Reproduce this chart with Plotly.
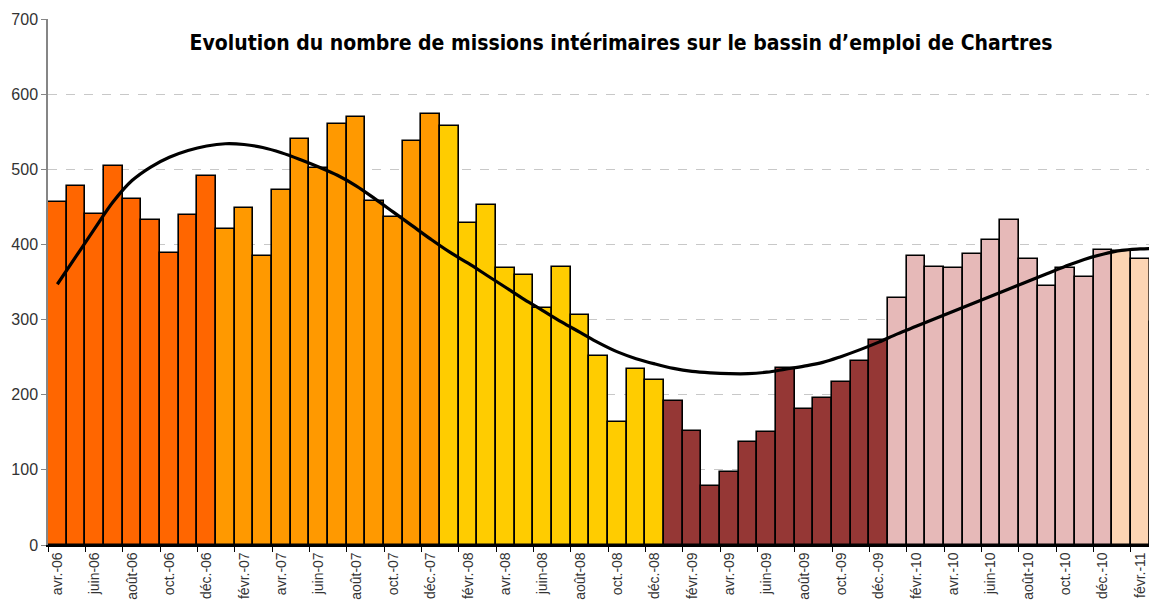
import plotly.graph_objects as go

# Data
month_names = ["janv.", "févr.", "mars", "avr.", "mai", "juin",
               "juil.", "août", "sept.", "oct.", "nov.", "déc."]
years = ["06", "07", "08", "09", "10", "11"]
categories = [f"{m}-{y}" for y in years for m in month_names][3:63]   # avr.-06 .. mars-11
bar_years = [y for y in years for m in month_names][3:63]

missions = [457, 478, 440, 504, 461, 433, 389, 439, 491,
            420, 448, 384, 473, 540, 502, 560, 569, 458, 437, 537, 573,
            557, 428, 452, 368, 359, 315, 370, 306, 251, 164, 234, 220,
            192, 152, 79, 97, 137, 151, 235, 181, 196, 217, 245, 273,
            329, 384, 370, 369, 387, 406, 433, 381, 345, 369, 356, 393,
            391, 380, 297]

# polynomial trend line
trend = [347, 384, 421, 457, 485, 503, 516, 525, 531, 534, 533, 529,
         522, 513, 503, 492, 478, 461, 443, 425, 407, 390, 375, 359,
         343, 327, 312, 297, 283, 269, 257, 248, 241, 235, 231, 229,
         228, 228, 230, 234, 238, 243, 251, 260, 270, 281, 291, 301,
         311, 321, 331, 341, 351, 361, 371, 380, 387, 392, 394, 395]

year_colors = {"06": "#FF6600", "07": "#FF9900", "08": "#FFCC00",
               "09": "#953735", "10": "#E6B9B8", "11": "#FCD5B4"}
bar_colors = [year_colors[y] for y in bar_years]

fig = go.Figure()
fig.add_trace(go.Bar(
    x=categories, y=missions,
    marker=dict(color=bar_colors, line=dict(color="black", width=1.6)),
    showlegend=False,
))
fig.add_trace(go.Scatter(
    x=categories, y=trend, mode="lines",
    line=dict(color="black", width=3.2, shape="spline", smoothing=1.0),
    showlegend=False,
))

# page body adds an 8px offset, so margins are shifted to compensate
fig.update_layout(
    template="none",
    width=1157, height=602,
    margin=dict(l=40, r=8, t=11, b=65),
    paper_bgcolor="white", plot_bgcolor="white",
    bargap=0,
    title=dict(
        text="<b>Evolution du nombre de missions intérimaires sur le bassin d’emploi de Chartres</b>",
        x=613 / 1157, xanchor="center", xref="container",
        y=1 - 35 / 602, yanchor="middle",
        font=dict(family="DejaVu Sans Condensed, DejaVu Sans", size=21, color="black"),
    ),
)

fig.update_xaxes(
    type="category", automargin=False,
    range=[-0.5, 58.9],
    tickmode="linear", tick0=0, dtick=2,
    tickson="boundaries", ticks="outside", ticklen=5, tickcolor="black",
    tickangle=-90,
    tickfont=dict(family="Liberation Sans, Arial", size=14, color="#333333"),
    showline=True, linecolor="black", linewidth=1.5,
    showgrid=False, zeroline=False,
)
fig.update_yaxes(
    automargin=False,
    range=[0, 700], dtick=100,
    ticks="outside", ticklen=5, tickcolor="#868686",
    tickfont=dict(family="Liberation Sans, Arial", size=16, color="#333333"),
    showline=True, linecolor="#868686", linewidth=1.5,
    showgrid=True, gridcolor="#C8C8C8", griddash="dash", gridwidth=1,
    zeroline=False,
)

fig.write_html("out.html")
